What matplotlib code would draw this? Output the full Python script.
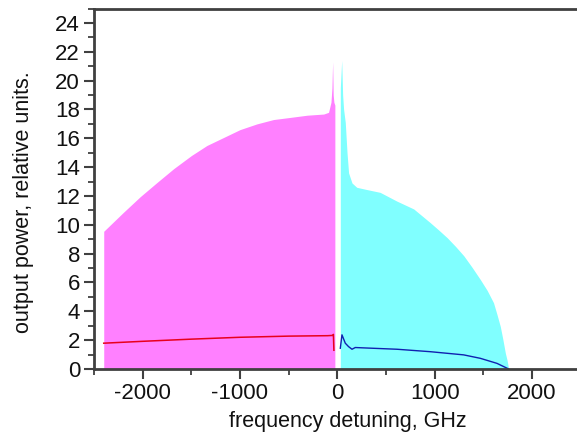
import matplotlib
matplotlib.use("Agg")
import matplotlib.pyplot as plt
from matplotlib.ticker import MultipleLocator

plt.rcParams['font.family'] = ['Liberation Sans', 'DejaVu Sans']

# Upper envelope of the negative-detuning (magenta) spectrum
pink_x = [-2400, -2200, -2025, -1850, -1680, -1500, -1340, -1170, -1000, -825, -655,
          -480, -310, -140, -90, -65, -55, -48, -42, -35, -25]
pink_y = [9.55, 10.85, 11.95, 12.95, 13.9, 14.8, 15.5, 16.05, 16.6, 17.0, 17.3,
          17.45, 17.6, 17.68, 17.8, 18.5, 19.5, 21.3, 19.0, 18.5, 18.3]

# Upper envelope of the positive-detuning (cyan) spectrum
cyan_x = [31, 45, 55, 65, 82, 100, 116, 151, 200, 300, 440, 610, 785, 955, 1040,
          1130, 1215, 1300, 1385, 1470, 1540, 1605, 1640, 1675, 1700, 1727, 1745, 1761]
cyan_y = [19.5, 21.4, 19.0, 18.0, 17.1, 15.0, 13.6, 12.9, 12.6, 12.45, 12.25, 11.65,
          11.1, 10.15, 9.65, 9.1, 8.5, 7.85, 7.05, 6.2, 5.45, 4.6, 3.8, 2.95, 2.1, 1.1, 0.6, 0.0]

# Red curve (negative detuning)
red_x = [-2400, -2000, -1500, -1000, -500, -100, -45, -40, -35]
red_y = [1.79, 1.92, 2.07, 2.2, 2.28, 2.31, 2.33, 2.4, 1.3]

# Blue curve (positive detuning)
blue_x = [31, 48, 82, 116, 151, 185, 250, 613, 956, 1298, 1470, 1641, 1761]
blue_y = [1.44, 2.37, 1.79, 1.55, 1.37, 1.49, 1.47, 1.37, 1.2, 0.98, 0.74, 0.39, 0.0]

xticks = [-2000, -1000, 0, 1000, 2000]
yticks = list(range(0, 25, 2))

fig = plt.figure(figsize=(5.77, 4.37), dpi=100)
ax = fig.add_axes([94/577, 68/437, 486.6/577, 360.5/437])

ax.fill_between(pink_x, 0, pink_y, color='#FF80FF', linewidth=0)
ax.fill_between(cyan_x, 0, cyan_y, color='#80FFFF', linewidth=0)
ax.plot(red_x, red_y, color='#E8001C', linewidth=1.1)
ax.plot(blue_x, blue_y, color='#1020B0', linewidth=1.0)

ax.set_xlim(-2500, 2500)
ax.set_ylim(0, 25)
ax.set_xticks(xticks)
ax.set_xticklabels([str(t) for t in xticks])
ax.set_yticks(yticks)
ax.set_yticklabels([str(t) for t in yticks])
ax.xaxis.set_minor_locator(MultipleLocator(500))
ax.yaxis.set_minor_locator(MultipleLocator(1))

spine_col = '#404040'
for side in ['left', 'bottom', 'top']:
    ax.spines[side].set_color(spine_col)
    ax.spines[side].set_linewidth(2.0)
ax.spines['right'].set_visible(False)

ax.tick_params(axis='both', which='major', direction='out', length=7, width=1.5,
               color=spine_col, labelsize=16, labelcolor='#111111', pad=3)
ax.tick_params(axis='both', which='minor', direction='out', length=4, width=1.3,
               color=spine_col)
ax.tick_params(top=False, right=False, which='both')

ax.set_xlabel('frequency detuning, GHz', fontsize=15.5, color='#111111')
ax.set_ylabel('output power, relative units.', fontsize=15.5, color='#111111')
ax.xaxis.set_label_coords((348 - 94) / 486.6, (369 - 411) / 360.5)
ax.yaxis.set_label_coords((34 - 94) / 486.6, (369 - 202) / 360.5)

fig.savefig('out.png', dpi=100)
